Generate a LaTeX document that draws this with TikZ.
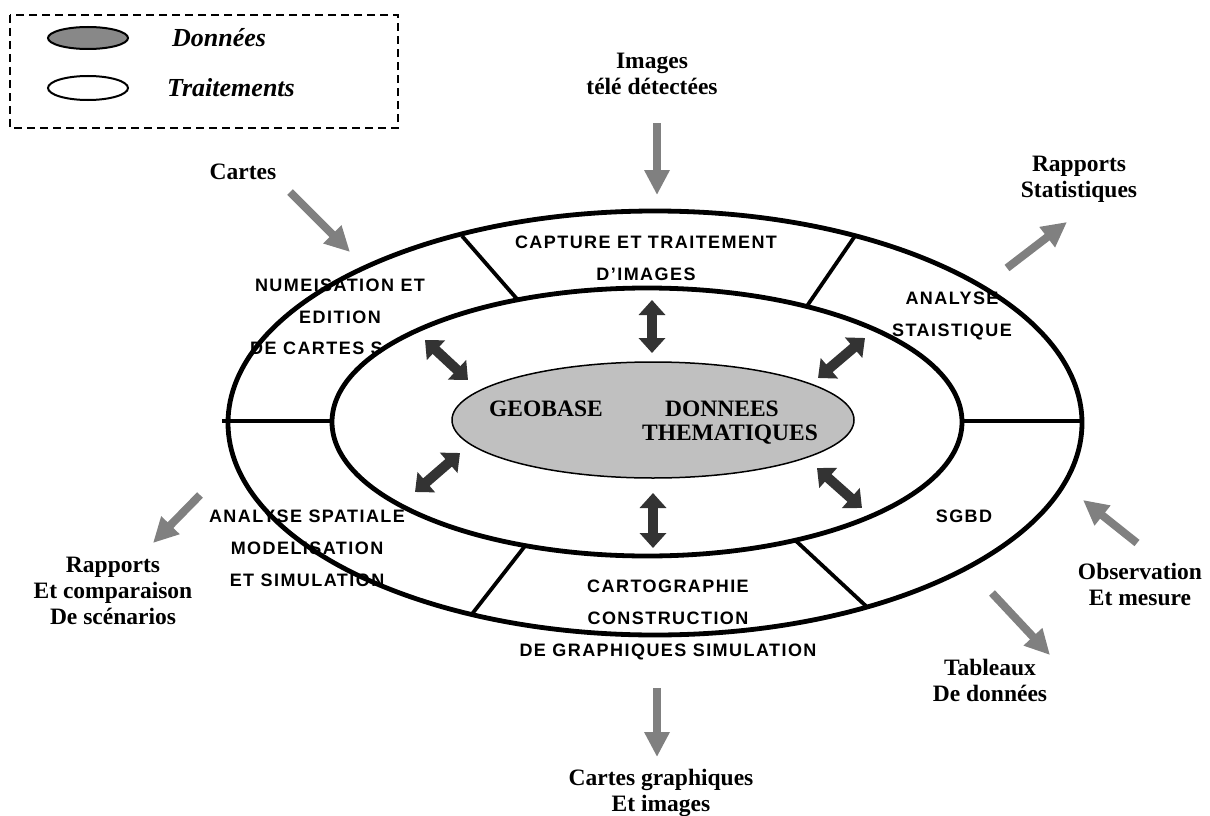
\documentclass[tikz,border=0pt]{standalone}
\usepackage{fontspec}
\setmainfont{Liberation Serif}
\newfontfamily\ringfont{Liberation Sans Bold}[LetterSpace=8]
\usetikzlibrary{arrows.meta}
\definecolor{flowgray}{HTML}{808080}
\definecolor{linkdark}{HTML}{333333}
\definecolor{coregray}{HTML}{C0C0C0}
\definecolor{keygray}{HTML}{888888}
\tikzset{
  label/.style={font=\bfseries\fontsize{23.5}{26}\selectfont, align=center, inner sep=0pt},
  keytext/.style={font=\bfseries\itshape\fontsize{26}{28}\selectfont, anchor=west, inner sep=0pt},
  ringtext/.style={font=\ringfont\fontsize{18}{32}\selectfont, align=center, inner sep=0pt},
  ring/.style={line width=4.8pt},
  divider/.style={line width=3.8pt},
  flow/.style={draw=flowgray, line width=8pt, -{Triangle[width=24pt,length=25pt]}},
  link/.style={draw=linkdark, line width=10pt, {Triangle[width=26pt,length=15pt]}-{Triangle[width=26pt,length=15pt]}},
}
\begin{document}
\begin{tikzpicture}[x=1pt, y=-1pt]
\useasboundingbox (0,0) rectangle (1210,816);

% legend
\draw[dashed, dash pattern=on 8pt off 5pt, line width=1.5pt] (10,15) rectangle (398,128);
\draw[line width=2pt, fill=keygray] (88,38) ellipse [x radius=40pt, y radius=11pt];
\draw[line width=2pt, fill=white] (88,88) ellipse [x radius=40pt, y radius=12pt];
\node[keytext] (kdata) at (172,38) {Données};
\node[keytext] (kproc) at (167,88) {Traitements};

% processing labels in the ring
\node[ringtext] (capture) at (646,258.5) {CAPTURE ET TRAITEMENT\\D’IMAGES};
\node[ringtext] (numa) at (340,301) {NUMEISATION ET\\EDITION};
\node[ringtext, anchor=west] (numb) at (250,348) {DE CARTES S};
\node[ringtext] (stat) at (952,316) {ANALYSE\\STAISTIQUE};
\node[ringtext] (spat) at (307,548.5) {ANALYSE SPATIALE\\MODELISATION\\ET SIMULATION};
\node[ringtext] (carto) at (668,619.5) {CARTOGRAPHIE\\CONSTRUCTION\\DE GRAPHIQUES SIMULATION};
\node[ringtext] (sgbd) at (964,516) {SGBD};

% rings
\draw[ring] (655,423) ellipse [x radius=427pt, y radius=212pt];
\draw[ring] (647,422) ellipse [x radius=315pt, y radius=134pt];
\draw[divider] (222,421) -- (332,421);
\draw[divider] (962,421) -- (1082,421);
\draw[divider] (462,236) -- (517,299);
\draw[divider] (855,236) -- (807,306);
\draw[divider] (472,614) -- (525,546);
\draw[divider] (795,540) -- (867,607);

% data core
\draw[line width=1.5pt, fill=coregray] (653,420) ellipse [x radius=201pt, y radius=58pt];
\node[label] (geo) at (546,409) {GEOBASE};
\node[label] (thA) at (722,409) {DONNEES};
\node[label] (thB) at (730,435) {THEMATIQUES};

% exchanges between core and ring
\coordinate (lT1) at (652,300); \coordinate (lT2) at (652,353);
\coordinate (lB1) at (653,493); \coordinate (lB2) at (653,548);
\coordinate (lTL1) at (425,340); \coordinate (lTL2) at (468,380);
\coordinate (lTR1) at (865,338); \coordinate (lTR2) at (818,378);
\coordinate (lBL1) at (460,453); \coordinate (lBL2) at (415,492);
\coordinate (lBR1) at (817,468); \coordinate (lBR2) at (862,508);
\draw[link] (lT1) -- (lT2);
\draw[link] (lB1) -- (lB2);
\draw[link] (lTL1) -- (lTL2);
\draw[link] (lTR1) -- (lTR2);
\draw[link] (lBL1) -- (lBL2);
\draw[link] (lBR1) -- (lBR2);

% external inputs and outputs
\node[label] (img) at (652,74) {Images\\télé détectées};
\node[label] (cartes) at (243,172) {Cartes};
\node[label] (rstat) at (1079,179) {Rapports\\Statistiques};
\node[label] (obs) at (1140,584) {Observation\\Et mesure};
\node[label] (tab) at (990,680) {Tableaux\\De données};
\node[label] (rscen) at (113,591) {Rapports\\Et comparaison\\De scénarios};
\node[label] (cgraph) at (661,793) {Cartes graphiques\\Et images};

\coordinate (fImg1) at (657,123); \coordinate (fImg2) at (657,195);
\coordinate (fCar1) at (290,192); \coordinate (fCar2) at (350,252);
\coordinate (fRst1) at (1007,268); \coordinate (fRst2) at (1067,222);
\coordinate (fObs1) at (1137,543); \coordinate (fObs2) at (1083,500);
\coordinate (fTab1) at (992,593); \coordinate (fTab2) at (1050,655);
\coordinate (fCg1) at (657,688); \coordinate (fCg2) at (657,757);
\coordinate (fRsc1) at (200,495); \coordinate (fRsc2) at (153,543);
\draw[flow] (fImg1) -- (fImg2);
\draw[flow] (fCar1) -- (fCar2);
\draw[flow] (fRst1) -- (fRst2);
\draw[flow] (fObs1) -- (fObs2);
\draw[flow] (fTab1) -- (fTab2);
\draw[flow] (fCg1) -- (fCg2);
\draw[flow] (fRsc1) -- (fRsc2);
\end{tikzpicture}
\end{document}
